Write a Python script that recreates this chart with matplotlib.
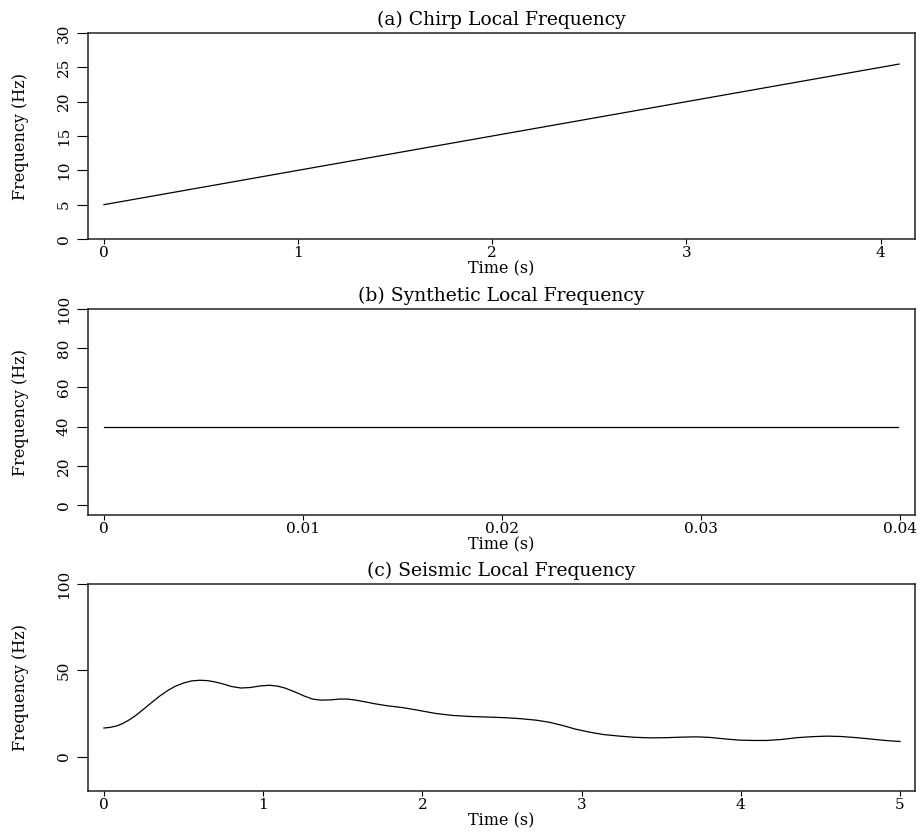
import numpy as np
import matplotlib
matplotlib.use("Agg")
import matplotlib.pyplot as plt

plt.rcParams['font.family'] = ['DejaVu Serif']
plt.rcParams['font.size'] = 11

# (a) chirp: linear local frequency
chirp_t = [0.0, 4.095]
chirp_f = [5.0, 25.475]

# (b) synthetic: constant local frequency
synth_t = [0.0, 0.0399]
synth_f = [40.0, 40.0]

# (c) seismic local frequency
seis_t = [0.00, 0.04, 0.08, 0.12, 0.16, 0.20, 0.25, 0.30, 0.35, 0.40,
          0.45, 0.50, 0.55, 0.60, 0.65, 0.70, 0.75, 0.80, 0.86, 0.92,
          0.98, 1.04, 1.09, 1.14, 1.20, 1.26, 1.31, 1.36, 1.42, 1.48,
          1.53, 1.58, 1.64, 1.70, 1.78, 1.88, 1.98, 2.08, 2.19, 2.30,
          2.40, 2.52, 2.62, 2.72, 2.80, 2.88, 2.96, 3.05, 3.14, 3.24,
          3.34, 3.43, 3.53, 3.62, 3.72, 3.80, 3.90, 3.99, 4.08, 4.16,
          4.26, 4.35, 4.45, 4.54, 4.63, 4.73, 4.83, 4.92, 5.00]
seis_f = [16.5, 16.9, 17.7, 19.2, 21.3, 23.8, 27.5, 31.3, 35.0, 38.2,
          40.8, 42.6, 43.8, 44.2, 44.0, 43.2, 42.0, 40.6, 39.7, 40.0,
          40.9, 41.3, 40.8, 39.6, 37.4, 35.0, 33.3, 32.7, 32.8, 33.3,
          33.3, 32.7, 31.7, 30.6, 29.4, 28.3, 26.7, 25.0, 23.8, 23.2,
          22.9, 22.5, 21.9, 21.0, 19.8, 18.0, 15.9, 14.1, 12.7, 11.8,
          11.1, 10.8, 10.9, 11.2, 11.4, 11.1, 10.2, 9.5, 9.3, 9.3,
          9.9, 10.9, 11.5, 11.8, 11.6, 10.9, 10.0, 9.2, 8.7]

titles = ["(a) Chirp Local Frequency",
          "(b) Synthetic Local Frequency",
          "(c) Seismic Local Frequency"]
xticks = [[0, 1, 2, 3, 4],
          [0, 0.01, 0.02, 0.03, 0.04],
          [0, 1, 2, 3, 4, 5]]
xticklabels = [["0", "1", "2", "3", "4"],
               ["0", "0.01", "0.02", "0.03", "0.04"],
               ["0", "1", "2", "3", "4", "5"]]
yticks = [[0, 5, 10, 15, 20, 25, 30],
          [0, 20, 40, 60, 80, 100],
          [0, 50, 100]]
xlims = [(-0.082, 4.177), (-0.0008, 0.04077), (-0.1, 5.094)]
ylims = [(0, 30), (-5, 100), (-20, 100)]
series = [(chirp_t, chirp_f), (synth_t, synth_f), (seis_t, seis_f)]

fig = plt.figure(figsize=(9.22, 8.33), dpi=100)
W, H = 922.0, 833.0
boxes = [(33, 239), (309, 515), (584, 791)]
left, right = 88, 915

for i, (top, bot) in enumerate(boxes):
    ax = fig.add_axes([left / W, 1 - bot / H, (right - left) / W, (bot - top) / H])
    t, f = series[i]
    ax.plot(t, f, color='black', lw=0.9)
    ax.set_xlim(*xlims[i])
    ax.set_ylim(*ylims[i])
    ax.set_xticks(xticks[i])
    ax.set_xticklabels(xticklabels[i])
    ax.set_yticks(yticks[i])
    ax.set_yticklabels([str(v) for v in yticks[i]], rotation=90, va='center')
    ax.tick_params(axis='x', length=3.6, width=0.8, pad=1.5, direction='out')
    ax.tick_params(axis='y', length=8, width=0.8, pad=4.5, direction='out')
    for s in ax.spines.values():
        s.set_linewidth(1.1)
        s.set_color('#222222')
    ax.set_title(titles[i], fontsize=13.5, pad=5.5)
    ax.set_xlabel("Time (s)", fontsize=11.5)
    ax.set_ylabel("Frequency (Hz)", fontsize=11.5)
    h = bot - top
    ax.xaxis.set_label_coords(0.5, -21.0 / h)
    ax.yaxis.set_label_coords(-59.0 / (right - left), 0.5)

fig.savefig("out.png", dpi=100)
